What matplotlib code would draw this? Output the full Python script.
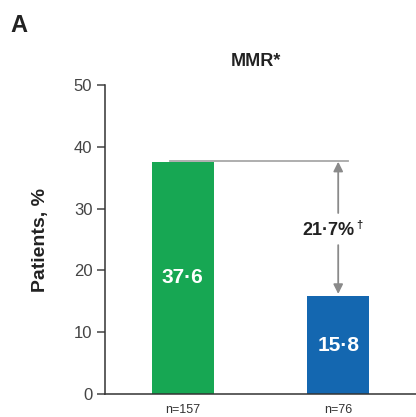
import matplotlib.pyplot as plt

plt.rcParams['font.family'] = ['Liberation Sans', 'DejaVu Sans']

groups = ['n=157', 'n=76']
values = [37.6, 15.8]
value_labels = ['37·6', '15·8']
diff_label = '21·7%'
colors = ['#17a753', '#1467b0']

fig = plt.figure(figsize=(4.16, 4.17), dpi=100)
ax = fig.add_axes([0.252, 0.055, 0.748, 0.741])

x = [0, 1]
ax.bar(x, values, width=0.4, color=colors)
for xi, v, lab in zip(x, values, value_labels):
    ax.text(xi, v / 2, lab, ha='center', va='center', color='white',
            fontsize=15, fontweight='bold')

# reference line and difference arrow
ax.plot([-0.08, 1.06], [values[0] + 0.1, values[0] + 0.1], color='#a8a8a8', lw=1.3, zorder=1)
ax_x = 1.0
ax.annotate('', xy=(ax_x, values[0]), xytext=(ax_x, 29.3),
            arrowprops=dict(arrowstyle='-|>', color='#8a8a8a', lw=1.3,
                            mutation_scale=14, shrinkA=0, shrinkB=0))
ax.annotate('', xy=(ax_x, values[1] + 0.4), xytext=(ax_x, 24.1),
            arrowprops=dict(arrowstyle='-|>', color='#8a8a8a', lw=1.3,
                            mutation_scale=14, shrinkA=0, shrinkB=0))
ax.text(ax_x - 0.06, 26.4, diff_label, ha='center', va='center', fontsize=13,
        fontweight='bold', color='#222222')
ax.text(ax_x + 0.115, 27.3, '†', ha='left', va='center', fontsize=8,
        fontweight='bold', color='#222222')

ax.set_xlim(-0.5, 1.5)
ax.set_ylim(0, 50)
ax.set_yticks([0, 10, 20, 30, 40, 50])
ax.set_xticks(x)
ax.set_xticklabels(groups, fontsize=9, color='#333333')
ax.tick_params(axis='x', length=0, pad=7)
ax.tick_params(axis='y', labelsize=12, colors='#444444', length=6, width=1.1, pad=3)
for s in ['top', 'right']:
    ax.spines[s].set_visible(False)
for s in ['left', 'bottom']:
    ax.spines[s].set_color('#333333')
    ax.spines[s].set_linewidth(1.1)
ax.set_ylabel('Patients, %', fontsize=14, fontweight='bold', color='#222222', labelpad=18)

fig.text(0.616, 0.852, 'MMR*', ha='center', va='center', fontsize=13,
         fontweight='bold', color='#222222')
fig.text(0.025, 0.94, 'A', ha='left', va='center', fontsize=17,
         fontweight='bold', color='#222222')

fig.savefig('out.png', dpi=100)
